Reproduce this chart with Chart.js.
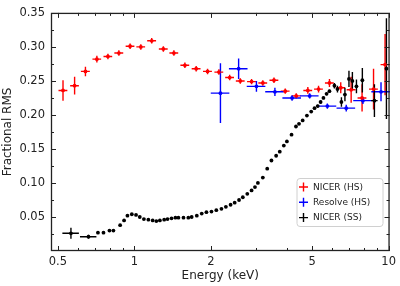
<!DOCTYPE html>
<html>
<head>
<meta charset="utf-8">
<script src="https://cdn.jsdelivr.net/npm/chart.js@4.4.0/dist/chart.umd.min.js"></script>
<style>
html, body { margin: 0; padding: 0; background: #fff; }
#wrap { width: 400px; height: 286px; }
</style>
</head>
<body>
<div id="wrap"><canvas id="chart"></canvas></div>
<script>
// NICER (HS)
const nicerHsEnergy = [0.524, 0.582, 0.642, 0.712, 0.787, 0.869, 0.962, 1.06, 1.17, 1.30, 1.43, 1.58, 1.75, 1.94, 2.15, 2.37, 2.61, 2.89, 3.20, 3.54, 3.92, 4.33, 4.81, 5.30, 5.85, 6.48, 7.12, 7.86, 8.72, 9.68]
const nicerHsRms = [0.236, 0.243, 0.264, 0.282, 0.286, 0.291, 0.301, 0.300, 0.309, 0.297, 0.291, 0.273, 0.268, 0.264, 0.263, 0.255, 0.250, 0.249, 0.247, 0.251, 0.235, 0.228, 0.236, 0.238, 0.247, 0.240, 0.237, 0.225, 0.238, 0.274]
const nicerHsRmsErr = [0.015, 0.013, 0.007, 0.005, 0.004, 0.004, 0.004, 0.004, 0.004, 0.004, 0.004, 0.004, 0.004, 0.004, 0.004, 0.004, 0.004, 0.004, 0.004, 0.004, 0.004, 0.004, 0.005, 0.005, 0.006, 0.008, 0.019, 0.020, 0.030, 0.045]
const nicerHsEnergyErr = [0.021, 0.023, 0.026, 0.028, 0.031, 0.035, 0.038, 0.042, 0.047, 0.052, 0.057, 0.063, 0.070, 0.078, 0.086, 0.095, 0.104, 0.116, 0.128, 0.142, 0.157, 0.173, 0.192, 0.212, 0.234, 0.259, 0.285, 0.314, 0.349, 0.387]

// Resolve (HS)
const resolveEnergy = [2.18, 2.57, 3.02, 3.57, 4.17, 4.89, 5.74, 6.81, 7.92, 9.33]
const resolveRms = [0.232, 0.268, 0.242, 0.234, 0.225, 0.228, 0.213, 0.210, 0.221, 0.234]
const resolveRmsErr = [0.044, 0.015, 0.008, 0.006, 0.004, 0.004, 0.004, 0.005, 0.005, 0.014]
const resolveEnergyErr = [0.183, 0.216, 0.254, 0.300, 0.350, 0.411, 0.482, 0.572, 0.665, 0.784]

// NICER (SS)
const nicerSsEnergy = [0.563, 0.660, 0.719, 0.756, 0.798, 0.827, 0.879, 0.911, 0.939, 0.977, 1.015, 1.05, 1.09, 1.135, 1.18, 1.22, 1.26, 1.31, 1.35, 1.40, 1.45, 1.49, 1.56, 1.63, 1.68, 1.76, 1.84, 1.92, 2.01, 2.10, 2.20, 2.29, 2.39, 2.48, 2.58, 2.67, 2.78, 2.89, 2.98, 3.06, 3.20, 3.33, 3.46, 3.61, 3.73, 3.87, 3.98, 4.15, 4.32, 4.44, 4.59, 4.77, 4.96, 5.11, 5.26, 5.40, 5.54, 5.70, 5.85, 6.12, 6.29, 6.52, 6.73, 6.98, 7.20, 7.47, 7.88, 8.79, 9.80]
const nicerSsRms = [0.026, 0.021, 0.027, 0.027, 0.030, 0.030, 0.038, 0.045, 0.052, 0.054, 0.053, 0.050, 0.047, 0.046, 0.045, 0.044, 0.045, 0.046, 0.047, 0.048, 0.049, 0.049, 0.049, 0.049, 0.050, 0.052, 0.055, 0.057, 0.058, 0.060, 0.062, 0.065, 0.068, 0.071, 0.075, 0.079, 0.084, 0.089, 0.094, 0.100, 0.108, 0.121, 0.133, 0.140, 0.146, 0.155, 0.161, 0.171, 0.183, 0.187, 0.192, 0.199, 0.205, 0.210, 0.213, 0.219, 0.225, 0.231, 0.235, 0.243, 0.238, 0.219, 0.230, 0.253, 0.250, 0.242, 0.251, 0.221, 0.268]
const nicerSsRmsErr = [0.008, 0.003, 0.001, 0.001, 0.001, 0.001, 0.001, 0.001, 0.001, 0.001, 0.001, 0.001, 0.001, 0.001, 0.001, 0.001, 0.001, 0.001, 0.001, 0.001, 0.001, 0.001, 0.001, 0.001, 0.001, 0.001, 0.001, 0.001, 0.001, 0.001, 0.001, 0.001, 0.001, 0.001, 0.001, 0.001, 0.001, 0.001, 0.001, 0.001, 0.001, 0.001, 0.001, 0.001, 0.001, 0.001, 0.001, 0.001, 0.001, 0.001, 0.001, 0.001, 0.001, 0.001, 0.002, 0.002, 0.002, 0.002, 0.002, 0.004, 0.005, 0.007, 0.010, 0.012, 0.013, 0.010, 0.018, 0.024, 0.074]
const nicerSsEnergyErr = [0.042, 0.049, 0, 0, 0, 0, 0, 0, 0, 0, 0, 0, 0, 0, 0, 0, 0, 0, 0, 0, 0, 0, 0, 0, 0, 0, 0, 0, 0, 0, 0, 0, 0, 0, 0, 0, 0, 0, 0, 0, 0, 0, 0, 0, 0, 0, 0, 0, 0, 0, 0, 0, 0, 0, 0, 0, 0, 0, 0, 0, 0, 0, 0, 0, 0, 0, 0.08, 0.26, 0.12]

const xMajorTicks = [0.5, 1, 2, 5, 10]
const xMinorTicks = [0.6, 0.7, 0.8, 0.9, 3, 4, 6, 7, 8, 9]
const yMajorTicks = [0.05, 0.10, 0.15, 0.20, 0.25, 0.30, 0.35]
const yMinorTicks = [0.025, 0.075, 0.125, 0.175, 0.225, 0.275, 0.325]

const series = [
	{label: "NICER (HS)", color: "#ff0000", e: nicerHsEnergy, v: nicerHsRms, ve: nicerHsRmsErr, ee: nicerHsEnergyErr},
	{label: "Resolve (HS)", color: "#0000ff", e: resolveEnergy, v: resolveRms, ve: resolveRmsErr, ee: resolveEnergyErr},
	{label: "NICER (SS)", color: "#000000", e: nicerSsEnergy, v: nicerSsRms, ve: nicerSsRmsErr, ee: nicerSsEnergyErr}
]

const fontFamily = "'DejaVu Sans', sans-serif"

const errorBars = {
	id: "errorBars",
	beforeDatasetsDraw(chart) {
		const {ctx, scales: {x, y}} = chart
		ctx.save()
		series.forEach(s => {
			ctx.strokeStyle = s.color
			ctx.lineWidth = 1.4
			ctx.beginPath()
			s.e.forEach((e, i) => {
				const px = x.getPixelForValue(e), py = y.getPixelForValue(s.v[i])
				if (s.ve[i] > 0) {
					ctx.moveTo(px, y.getPixelForValue(s.v[i] - s.ve[i]))
					ctx.lineTo(px, y.getPixelForValue(s.v[i] + s.ve[i]))
				}
				if (s.ee[i] > 0) {
					ctx.moveTo(x.getPixelForValue(e - s.ee[i]), py)
					ctx.lineTo(x.getPixelForValue(e + s.ee[i]), py)
				}
			})
			ctx.stroke()
		})
		ctx.restore()
	}
}

const frameAndTicks = {
	id: "frameAndTicks",
	afterDatasetsDraw(chart) {
		const {ctx, chartArea: a, scales: {x, y}} = chart
		ctx.save()
		ctx.strokeStyle = "#222"
		ctx.lineWidth = 1
		ctx.beginPath()
		const tickX = (v, len) => {
			const p = Math.round(x.getPixelForValue(v)) + 0.5
			ctx.moveTo(p, a.bottom); ctx.lineTo(p, a.bottom - len)
			ctx.moveTo(p, a.top); ctx.lineTo(p, a.top + len)
		}
		const tickY = (v, len) => {
			const p = Math.round(y.getPixelForValue(v)) + 0.5
			ctx.moveTo(a.left, p); ctx.lineTo(a.left + len, p)
			ctx.moveTo(a.right, p); ctx.lineTo(a.right - len, p)
		}
		xMajorTicks.forEach(v => tickX(v, 5))
		xMinorTicks.forEach(v => tickX(v, 3))
		yMajorTicks.forEach(v => tickY(v, 5))
		yMinorTicks.forEach(v => tickY(v, 3))
		ctx.stroke()
		ctx.lineWidth = 1.3
		ctx.strokeRect(a.left + 0.5, a.top + 0.5, a.right - a.left - 1, a.bottom - a.top - 1)

		// legend
		const bx = 297, by = 178.5, bw = 86, bh = 48
		ctx.fillStyle = "rgba(255,255,255,0.85)"
		ctx.strokeStyle = "#d0d0d0"
		ctx.lineWidth = 1
		ctx.beginPath()
		ctx.roundRect(bx, by, bw, bh, 3)
		ctx.fill()
		ctx.stroke()
		ctx.font = "9px " + fontFamily
		ctx.textBaseline = "middle"
		series.forEach((s, i) => {
			const ly = by + 8.5 + i * 15.3, lx = bx + 6.5
			ctx.strokeStyle = s.color
			ctx.lineWidth = 1.4
			ctx.beginPath()
			ctx.moveTo(lx - 4.5, ly); ctx.lineTo(lx + 4.5, ly)
			ctx.moveTo(lx, ly - 4.5); ctx.lineTo(lx, ly + 4.5)
			ctx.stroke()
			ctx.fillStyle = "#222"
			ctx.fillText(s.label, bx + 16, ly + 0.5)
		})
		ctx.restore()
	}
}

new Chart(document.getElementById("chart"), {
	type: "scatter",
	data: {
		datasets: series.map(s => ({
			label: s.label,
			data: s.e.map((e, i) => ({x: e, y: s.v[i]})),
			backgroundColor: s.color,
			borderColor: s.color,
			borderWidth: 0,
			pointRadius: 1.9,
			pointHoverRadius: 1.9
		}))
	},
	options: {
		responsive: true,
		maintainAspectRatio: false,
		devicePixelRatio: 1,
		animation: false,
		layout: {padding: {top: 7, right: 8, left: 0, bottom: 0}},
		plugins: {legend: {display: false}, tooltip: {enabled: false}},
		scales: {
			x: {
				type: "logarithmic",
				min: 0.47,
				max: 10.08,
				grid: {display: false, drawTicks: false},
				border: {display: false},
				afterBuildTicks: scale => { scale.ticks = xMajorTicks.map(v => ({value: v})) },
				afterFit: scale => { scale.height = 35 },
				ticks: {
					autoSkip: false,
					maxRotation: 0,
					padding: 4,
					color: "#222",
					font: {family: fontFamily, size: 11.5},
					callback: v => String(v)
				},
				title: {
					display: true,
					text: "Energy (keV)",
					color: "#222",
					font: {family: fontFamily, size: 12},
					padding: {top: 0, bottom: 3}
				}
			},
			y: {
				min: 0,
				max: 0.35,
				grid: {display: false, drawTicks: false},
				border: {display: false},
				afterBuildTicks: scale => { scale.ticks = yMajorTicks.map(v => ({value: v})) },
				afterFit: scale => { scale.width = 51 },
				ticks: {
					padding: 6,
					color: "#222",
					font: {family: fontFamily, size: 11.5},
					callback: v => v.toFixed(2)
				},
				title: {
					display: true,
					text: "Fractional RMS",
					color: "#222",
					font: {family: fontFamily, size: 12},
					padding: {top: 1, bottom: 0}
				}
			}
		}
	},
	plugins: [errorBars, frameAndTicks]
})
</script>
</body>
</html>
